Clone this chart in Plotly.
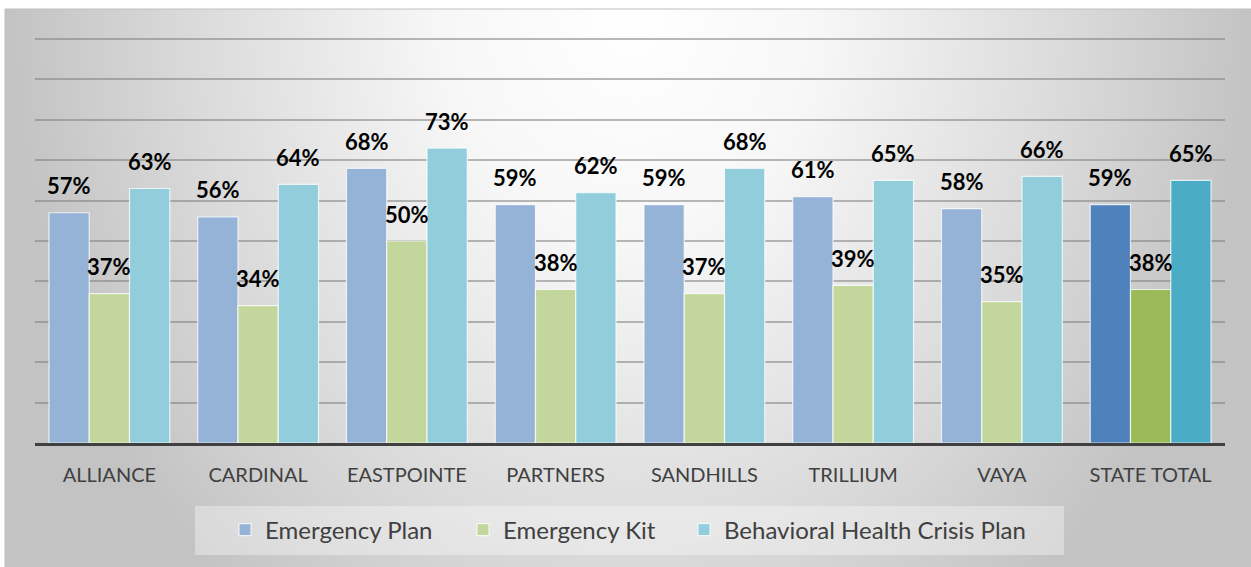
import base64
import plotly.graph_objects as go

# ---- data ----
categories = ["ALLIANCE", "CARDINAL", "EASTPOINTE", "PARTNERS", "SANDHILLS",
              "TRILLIUM", "VAYA", "STATE TOTAL"]
emergency_plan = [57, 56, 68, 59, 59, 61, 58, 59]
emergency_kit = [37, 34, 50, 38, 37, 39, 35, 38]
bh_crisis_plan = [63, 64, 73, 62, 68, 65, 66, 65]
series_names = ["Emergency Plan", "Emergency Kit", "Behavioral Health Crisis Plan"]

# ---- style ----
W, H = 1251, 567
ML, MR, MT, MB = 35, 26, 35, 124
PLOT_W = W - ML - MR
PLOT_H = H - MT - MB
Y_MAX = 101
BARGAP = 0.188
FONT = "Lato"

light = ["#95b3d7", "#c3d69b", "#92cddc"]
dark = ["#4f81bd", "#9bbb59", "#4bacc6"]
legend_item_left = [225, 463, 684]   # px, left edge of each legend entry
legend_ids = ["legend", "legend2", "legend3"]


def colors(i):
    return [light[i]] * (len(categories) - 1) + [dark[i]]


def px_x(p):
    return (p - ML) / PLOT_W


def px_y(p):
    return (MT + PLOT_H - p) / PLOT_H


fig = go.Figure()
all_series = [emergency_plan, emergency_kit, bh_crisis_plan]
for i, (name, vals) in enumerate(zip(series_names, all_series)):
    fig.add_trace(go.Bar(
        x=categories, y=vals, name=name, legend=legend_ids[i],
        marker=dict(color=colors(i), line=dict(color="rgba(255,255,255,0.75)", width=1.2)),
        hoverinfo="x+y+name",
    ))

bar_px = (1 - BARGAP) * PLOT_W / len(categories) / 3
annotations = []
for i, vals in enumerate(all_series):
    for c, v in zip(categories, vals):
        annotations.append(dict(
            x=c, y=v, xref="x", yref="y", text=f"<b>{v}%</b>", showarrow=False,
            xshift=(i - 1) * bar_px, yshift=27, yanchor="middle", xanchor="center",
            font=dict(family=FONT, size=22, color="#000000"),
        ))

# background gradient (radial, light at top centre)
svg = (
    '<svg xmlns="http://www.w3.org/2000/svg" width="1246" height="558" '
    'viewBox="0 0 1246 558" preserveAspectRatio="none">'
    '<defs><radialGradient id="g" gradientUnits="userSpaceOnUse" cx="0" cy="0" r="1" '
    'gradientTransform="translate(623,0) scale(620,760)">'
    '<stop offset="0" stop-color="#ffffff"/>'
    '<stop offset="0.3" stop-color="#f7f7f7"/>'
    '<stop offset="0.72" stop-color="#d9d9d9"/>'
    '<stop offset="1" stop-color="#c3c3c3"/>'
    '</radialGradient></defs>'
    '<rect x="0" y="0" width="1246" height="558" fill="url(#g)"/></svg>'
)
src = "data:image/svg+xml;base64," + base64.b64encode(svg.encode()).decode()

x_left, y_top = px_x(5), px_y(9)
fig.add_layout_image(dict(
    source=src, xref="paper", yref="paper", x=x_left, y=y_top,
    sizex=px_x(W + 4) - x_left, sizey=y_top - px_y(H + 4),
    xanchor="left", yanchor="top", sizing="stretch", layer="below",
))

shapes = [
    # chart frame
    dict(type="rect", xref="paper", yref="paper", x0=x_left, y0=px_y(H + 10),
         x1=px_x(W + 10), y1=y_top, line=dict(color="#c0c0c0", width=1),
         fillcolor="rgba(0,0,0,0)", layer="below"),
    # legend box
    dict(type="rect", xref="paper", yref="paper", x0=px_x(195), x1=px_x(1064),
         y0=px_y(555), y1=px_y(506), line=dict(width=0),
         fillcolor="rgba(255,255,255,0.35)", layer="below"),
]

legend_common = dict(
    orientation="h", xanchor="left", y=px_y(530), yanchor="middle",
    bgcolor="rgba(0,0,0,0)", borderwidth=0, itemclick=False, itemdoubleclick=False,
    font=dict(family=FONT, size=24, color="#404040"),
)
legends = {lid: dict(legend_common, x=px_x(xl)) for lid, xl in zip(legend_ids, legend_item_left)}

fig.update_layout(
    width=W, height=H,
    margin=dict(l=ML, r=MR, t=MT, b=MB, pad=0),
    paper_bgcolor="#ffffff", plot_bgcolor="rgba(0,0,0,0)",
    barmode="group", bargap=BARGAP, bargroupgap=0,
    font=dict(family=FONT, color="#404040"),
    showlegend=True,
    annotations=annotations,
    shapes=shapes,
    xaxis=dict(
        showline=True, linecolor="#404040", linewidth=3, ticks="",
        tickfont=dict(family=FONT, size=20, color="#404040"),
        ticklabelstandoff=12, showgrid=False, fixedrange=True,
    ),
    yaxis=dict(
        range=[0, Y_MAX], showticklabels=False, ticks="", tick0=0, dtick=10,
        showgrid=True, gridcolor="rgba(128,128,128,0.55)", gridwidth=2,
        zeroline=False, showline=False, fixedrange=True,
    ),
    **legends,
)

fig.write_html(
    "out.html",
    config={"displayModeBar": False},
    post_script="document.body.style.margin='0';",
)
